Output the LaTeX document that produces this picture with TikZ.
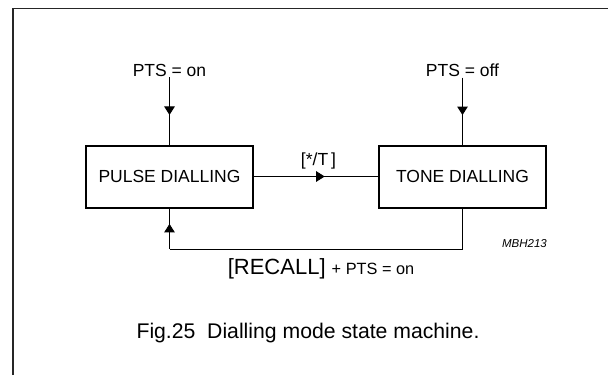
\documentclass[tikz,border=0pt]{standalone}
\usepackage{fontspec}
\setmainfont{Liberation Sans}
\usepackage{tikz}
\usetikzlibrary{positioning, arrows.meta, decorations.markings}

\begin{document}
\begin{tikzpicture}[
  x=1pt, y=-1pt,
  state/.style={draw=black, line width=2pt, minimum width=167pt, minimum height=62pt,
    inner sep=0pt, font=\fontsize{17.5}{20}\selectfont},
  cond/.style={inner sep=1pt, font=\fontsize{17.5}{20}\selectfont},
  midarrow/.style={line width=0.9pt, postaction={decorate}, decoration={markings,
    mark=at position #1 with {\arrow{Triangle[length=8.5pt, width=10.5pt]}}}},
  frame/.style={draw=black!85, line width=1.2pt},
  tag/.style={font=\itshape\fontsize{11.5}{13}\selectfont}
]
\useasboundingbox (0,0) rectangle (608,375);

% --- frame (top and left edge only) ---
\draw[frame] (13,375) -- (13,8.5) -- (608,8.5);

% --- the two dialling states ---
\node[state] (pulse) at (169.5,176.5) {PULSE DIALLING};
\node[state] (tone)  at (462.5,176.5) {TONE DIALLING};

% --- PTS set from outside ---
\node[cond] (pton)  at (169.5,70) {PTS = on};
\node[cond] (ptoff) at (462.5,70) {PTS = off};
\draw[midarrow=0.56] (pton.south) -- (pulse.north);
\draw[midarrow=0.56] (ptoff.south) -- (tone.north);

% --- pulse to tone ---
\draw[midarrow=0.57] (pulse.east) -- (tone.west)
  node[pos=0.52, above=6pt, cond] (star) {[*/T\,]};

% --- back to pulse ---
\coordinate (back) at (169.5,249);
\draw[line width=0.9pt] (tone.south) |- (back);
\draw[midarrow=0.62] (back) -- (pulse.south);
\node (recall) at (321,268.5) {\fontsize{22}{26}\selectfont[RECALL]
  \fontsize{16.3}{19}\selectfont+ PTS = on};

\node[tag] (mbh) at (524.5,244) {MBH213};

% --- caption ---
\node[font=\fontsize{21.2}{25}\selectfont] (caption) at (308,333)
  {Fig.25\ \ Dialling mode state machine.};

\end{tikzpicture}
\end{document}
